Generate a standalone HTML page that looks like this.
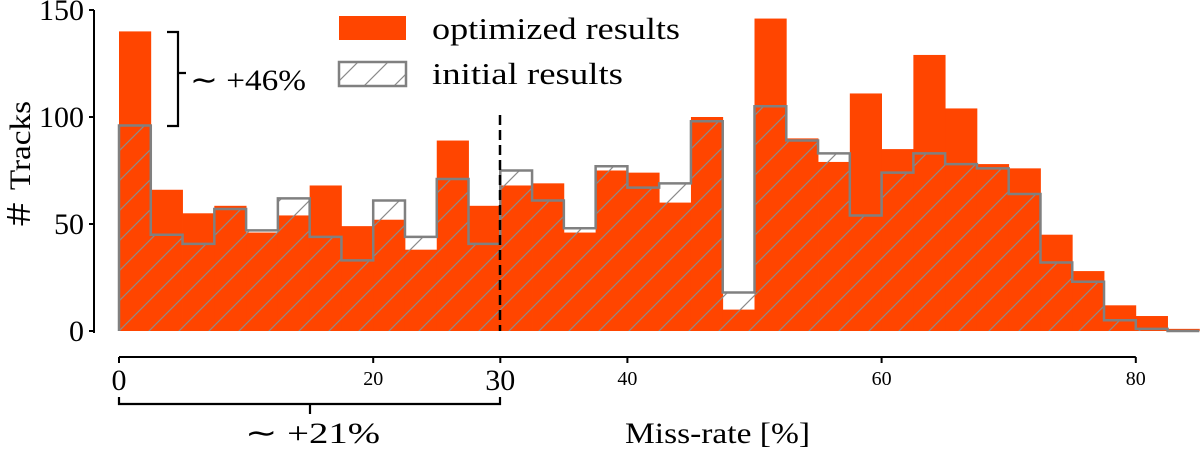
<!DOCTYPE html>
<html><head><meta charset="utf-8"><style>
html,body{margin:0;padding:0;background:#fff;}
svg{display:block;font-family:"Liberation Serif",serif;}
</style></head><body>
<svg id="chart" width="1200" height="450" viewBox="0 0 1200 450" xmlns="http://www.w3.org/2000/svg">
<defs>
<pattern id="hatch" patternUnits="userSpaceOnUse" width="30" height="30">
<path d="M-5,35 L35,-5 M-35,35 L5,-5 M25,35 L65,-5" stroke="#8a8a8a" stroke-width="1.2"/>
</pattern>
</defs>
<g id="bars"></g>
<g id="initfill"></g>
<path id="initline" fill="none" stroke="#808080" stroke-width="2.5"/>
<line x1="500" y1="115" x2="500" y2="331" stroke="#000" stroke-width="2.5" stroke-dasharray="10,5"/>
<g id="yaxis"></g>
<g id="xaxis"></g>
<text transform="translate(30,166) rotate(-90)" text-anchor="middle" font-size="30" textLength="130" lengthAdjust="spacingAndGlyphs">＃ Tracks</text>
<text x="625" y="443" font-size="30" textLength="185" lengthAdjust="spacingAndGlyphs">Miss-rate [%]</text>
<g>
<rect x="339" y="16" width="67" height="24" fill="#ff4500"/>
<text x="432" y="39" font-size="31" textLength="248" lengthAdjust="spacingAndGlyphs">optimized results</text>
<rect x="339" y="62" width="67" height="24" fill="url(#hatch)" stroke="#808080" stroke-width="2.5"/>
<text x="432" y="84" font-size="31" textLength="191" lengthAdjust="spacingAndGlyphs">initial results</text>
</g>
<g>
<path d="M167,32 H178 V126 H167 M178,73 H186" fill="none" stroke="#000" stroke-width="2.2"/>
<text x="190" y="90" font-size="30" textLength="116" lengthAdjust="spacingAndGlyphs">∼ +46%</text>
</g>
<g>
<path d="M119,397 V404 H500 V397 M310,404 V414" fill="none" stroke="#000" stroke-width="2.2"/>
<text x="245" y="443" font-size="30" textLength="135" lengthAdjust="spacingAndGlyphs">∼ +21%</text>
</g>
</svg>
<script>
const binWidth = 2.5;
const optimized = [140,66,55,58.5,46,54,68,49,52,38,89,58.5,68,69,46,75,74,60,100,10,146,90,79,111,85,129,104,78,76,45,28,12,7,1];
const initial = [96,45,40.7,57,47,62,44,33,61,44,71,40.7,75,61,48,77,67,69,98,18,105,89,83,54,74,83,78,76,64,32,23,5,1,0];
const yTicks = [0,50,100,150];
const xTicks = [0,20,30,40,60,80];
const xBigTicks = [0,30];

const NS = "http://www.w3.org/2000/svg";
const X = v => 119 + v * 12.71;
const Y = v => 331 - v * 2.14;
function mk(tag, attrs, parent){const e=document.createElementNS(NS,tag);for(const k in attrs)e.setAttribute(k,attrs[k]);parent.appendChild(e);return e;}

const bars = document.getElementById('bars');
optimized.forEach((v,i)=>{
  const r = mk('rect',{x:X(i*binWidth),y:Y(v),width:X((i+1)*binWidth)-X(i*binWidth)+0.4,height:Y(0)-Y(v),fill:'#ff4500'},bars);
  
  
});
const fillG = document.getElementById('initfill');
let d = 'M' + X(0) + ',' + Y(0);
initial.forEach((v,i)=>{ d += ' L' + X(i*binWidth) + ',' + Y(v) + ' L' + X((i+1)*binWidth) + ',' + Y(v); });
d += ' L' + X(initial.length*binWidth) + ',' + Y(0);
const hf = mk('path',{d:d+' Z',fill:'url(#hatch)'},fillG);


document.getElementById('initline').setAttribute('d', d);

const ya = document.getElementById('yaxis');
mk('line',{x1:94,y1:Y(150),x2:94,y2:Y(0)+2,stroke:'#000','stroke-width':2},ya);
yTicks.forEach(t=>{
  mk('line',{x1:89,y1:Y(t),x2:94,y2:Y(t),stroke:'#000','stroke-width':2},ya);
  const tx = mk('text',{x:84,y:Y(t)+10,'text-anchor':'end','font-size':30},ya);
  tx.textContent = t;
  
  
});
const xa = document.getElementById('xaxis');
mk('line',{x1:X(0),y1:357,x2:X(80),y2:357,stroke:'#000','stroke-width':2},xa);
xTicks.forEach(t=>{
  mk('line',{x1:X(t),y1:357,x2:X(t),y2:363,stroke:'#000','stroke-width':2},xa);
  const big = xBigTicks.includes(t);
  const tx = mk('text',{x:X(t),y:big?390:385,'text-anchor':'middle','font-size':big?30:20},xa);
  tx.textContent = t;
  
  
});
</script>
</body></html>
